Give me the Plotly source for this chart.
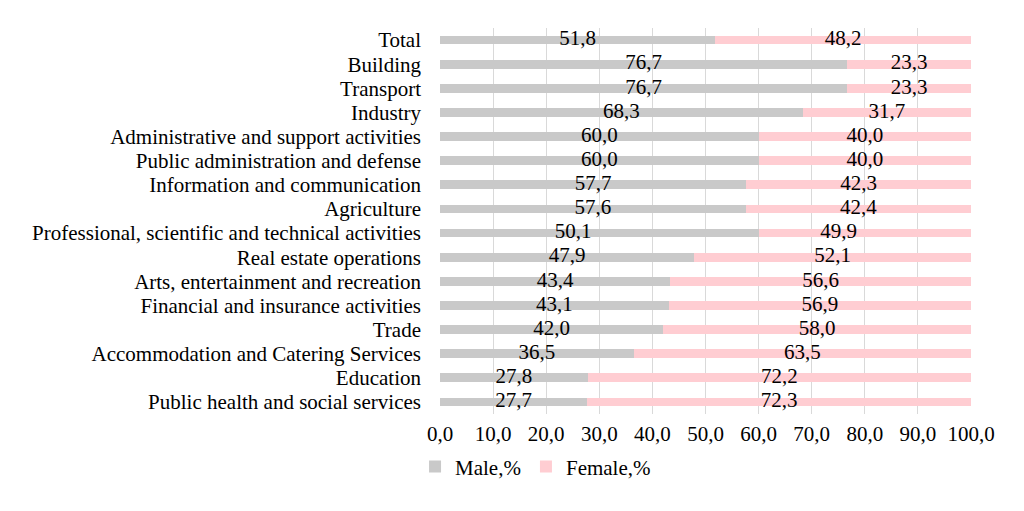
import plotly.graph_objects as go

categories = [
    "Total", "Building", "Transport", "Industry",
    "Administrative and support activities",
    "Public administration and defense",
    "Information and communication", "Agriculture",
    "Professional, scientific and technical activities",
    "Real estate operations", "Arts, entertainment and recreation",
    "Financial and insurance activities", "Trade",
    "Accommodation and Catering Services", "Education",
    "Public health and social services",
]
# values shown in the data labels
male_values = [51.8, 76.7, 76.7, 68.3, 60.0, 60.0, 57.7, 57.6, 50.1, 47.9, 43.4, 43.1, 42.0, 36.5, 27.8, 27.7]
female_values = [48.2, 23.3, 23.3, 31.7, 40.0, 40.0, 42.3, 42.4, 49.9, 52.1, 56.6, 56.9, 58.0, 63.5, 72.2, 72.3]
# lengths of the drawn bars (the original chart draws the Professional row's male bar to 60)
male_bars = [51.8, 76.7, 76.7, 68.3, 60.0, 60.0, 57.7, 57.6, 60.0, 47.9, 43.4, 43.1, 42.0, 36.5, 27.8, 27.7]
female_bars = [48.2, 23.3, 23.3, 31.7, 40.0, 40.0, 42.3, 42.4, 40.0, 52.1, 56.6, 56.9, 58.0, 63.5, 72.2, 72.3]
x_ticks = [0, 10, 20, 30, 40, 50, 60, 70, 80, 90, 100]

FONT = "Liberation Serif, Times New Roman, serif"
FS = 21
GREY = "#c9c9c9"
PINK = "#ffcdd2"

def fmt(v):
    return f"{v:.1f}".replace(".", ",")

fig = go.Figure()
fig.add_trace(go.Bar(y=categories, x=male_bars, orientation="h", name="Male,%",
                     marker=dict(color=GREY, line=dict(width=0))))
fig.add_trace(go.Bar(y=categories, x=female_bars, orientation="h", name="Female,%",
                     marker=dict(color=PINK, line=dict(width=0))))

# data labels centred on the segments defined by the label values
male_pos = [m / 2 for m in male_values]
female_pos = [m + f / 2 for m, f in zip(male_values, female_values)]
fig.add_trace(go.Scatter(y=categories, x=male_pos, mode="text",
                         text=[fmt(v) for v in male_values], showlegend=False,
                         textfont=dict(family=FONT, size=FS, color="#000000"),
                         cliponaxis=False, hoverinfo="skip"))
fig.add_trace(go.Scatter(y=categories, x=female_pos, mode="text",
                         text=[fmt(v) for v in female_values], showlegend=False,
                         textfont=dict(family=FONT, size=FS, color="#000000"),
                         cliponaxis=False, hoverinfo="skip"))

fig.update_layout(
    width=1024, height=511,
    barmode="stack", bargap=0.64,
    paper_bgcolor="white", plot_bgcolor="white",
    margin=dict(l=432, r=61, t=20, b=105),
    font=dict(family=FONT, size=FS, color="#000000"),
    separators=", ",
    legend=dict(orientation="h", x=-0.047, xanchor="left",
                yref="container", y=0.102, yanchor="middle",
                font=dict(family=FONT, size=FS), itemwidth=30,
                bgcolor="rgba(0,0,0,0)",
                traceorder="normal", itemclick=False),
    xaxis=dict(range=[0, 100], tickmode="array", tickvals=x_ticks,
               ticktext=[fmt(v) for v in x_ticks],
               showgrid=True, gridcolor="#d9d9d9", gridwidth=1, zeroline=False,
               showline=False, ticks="", tickfont=dict(family=FONT, size=FS),
               ticklabelstandoff=5, automargin=False, fixedrange=True),
    yaxis=dict(categoryorder="array", categoryarray=categories,
               tickmode="array", tickvals=categories, ticktext=categories,
               range=[len(categories) - 0.5, -0.5],
               showgrid=False, zeroline=False, showline=False, ticks="",
               ticklabelstandoff=18, tickfont=dict(family=FONT, size=FS),
               automargin=False, fixedrange=True),
)

fig.write_html("out.html")
